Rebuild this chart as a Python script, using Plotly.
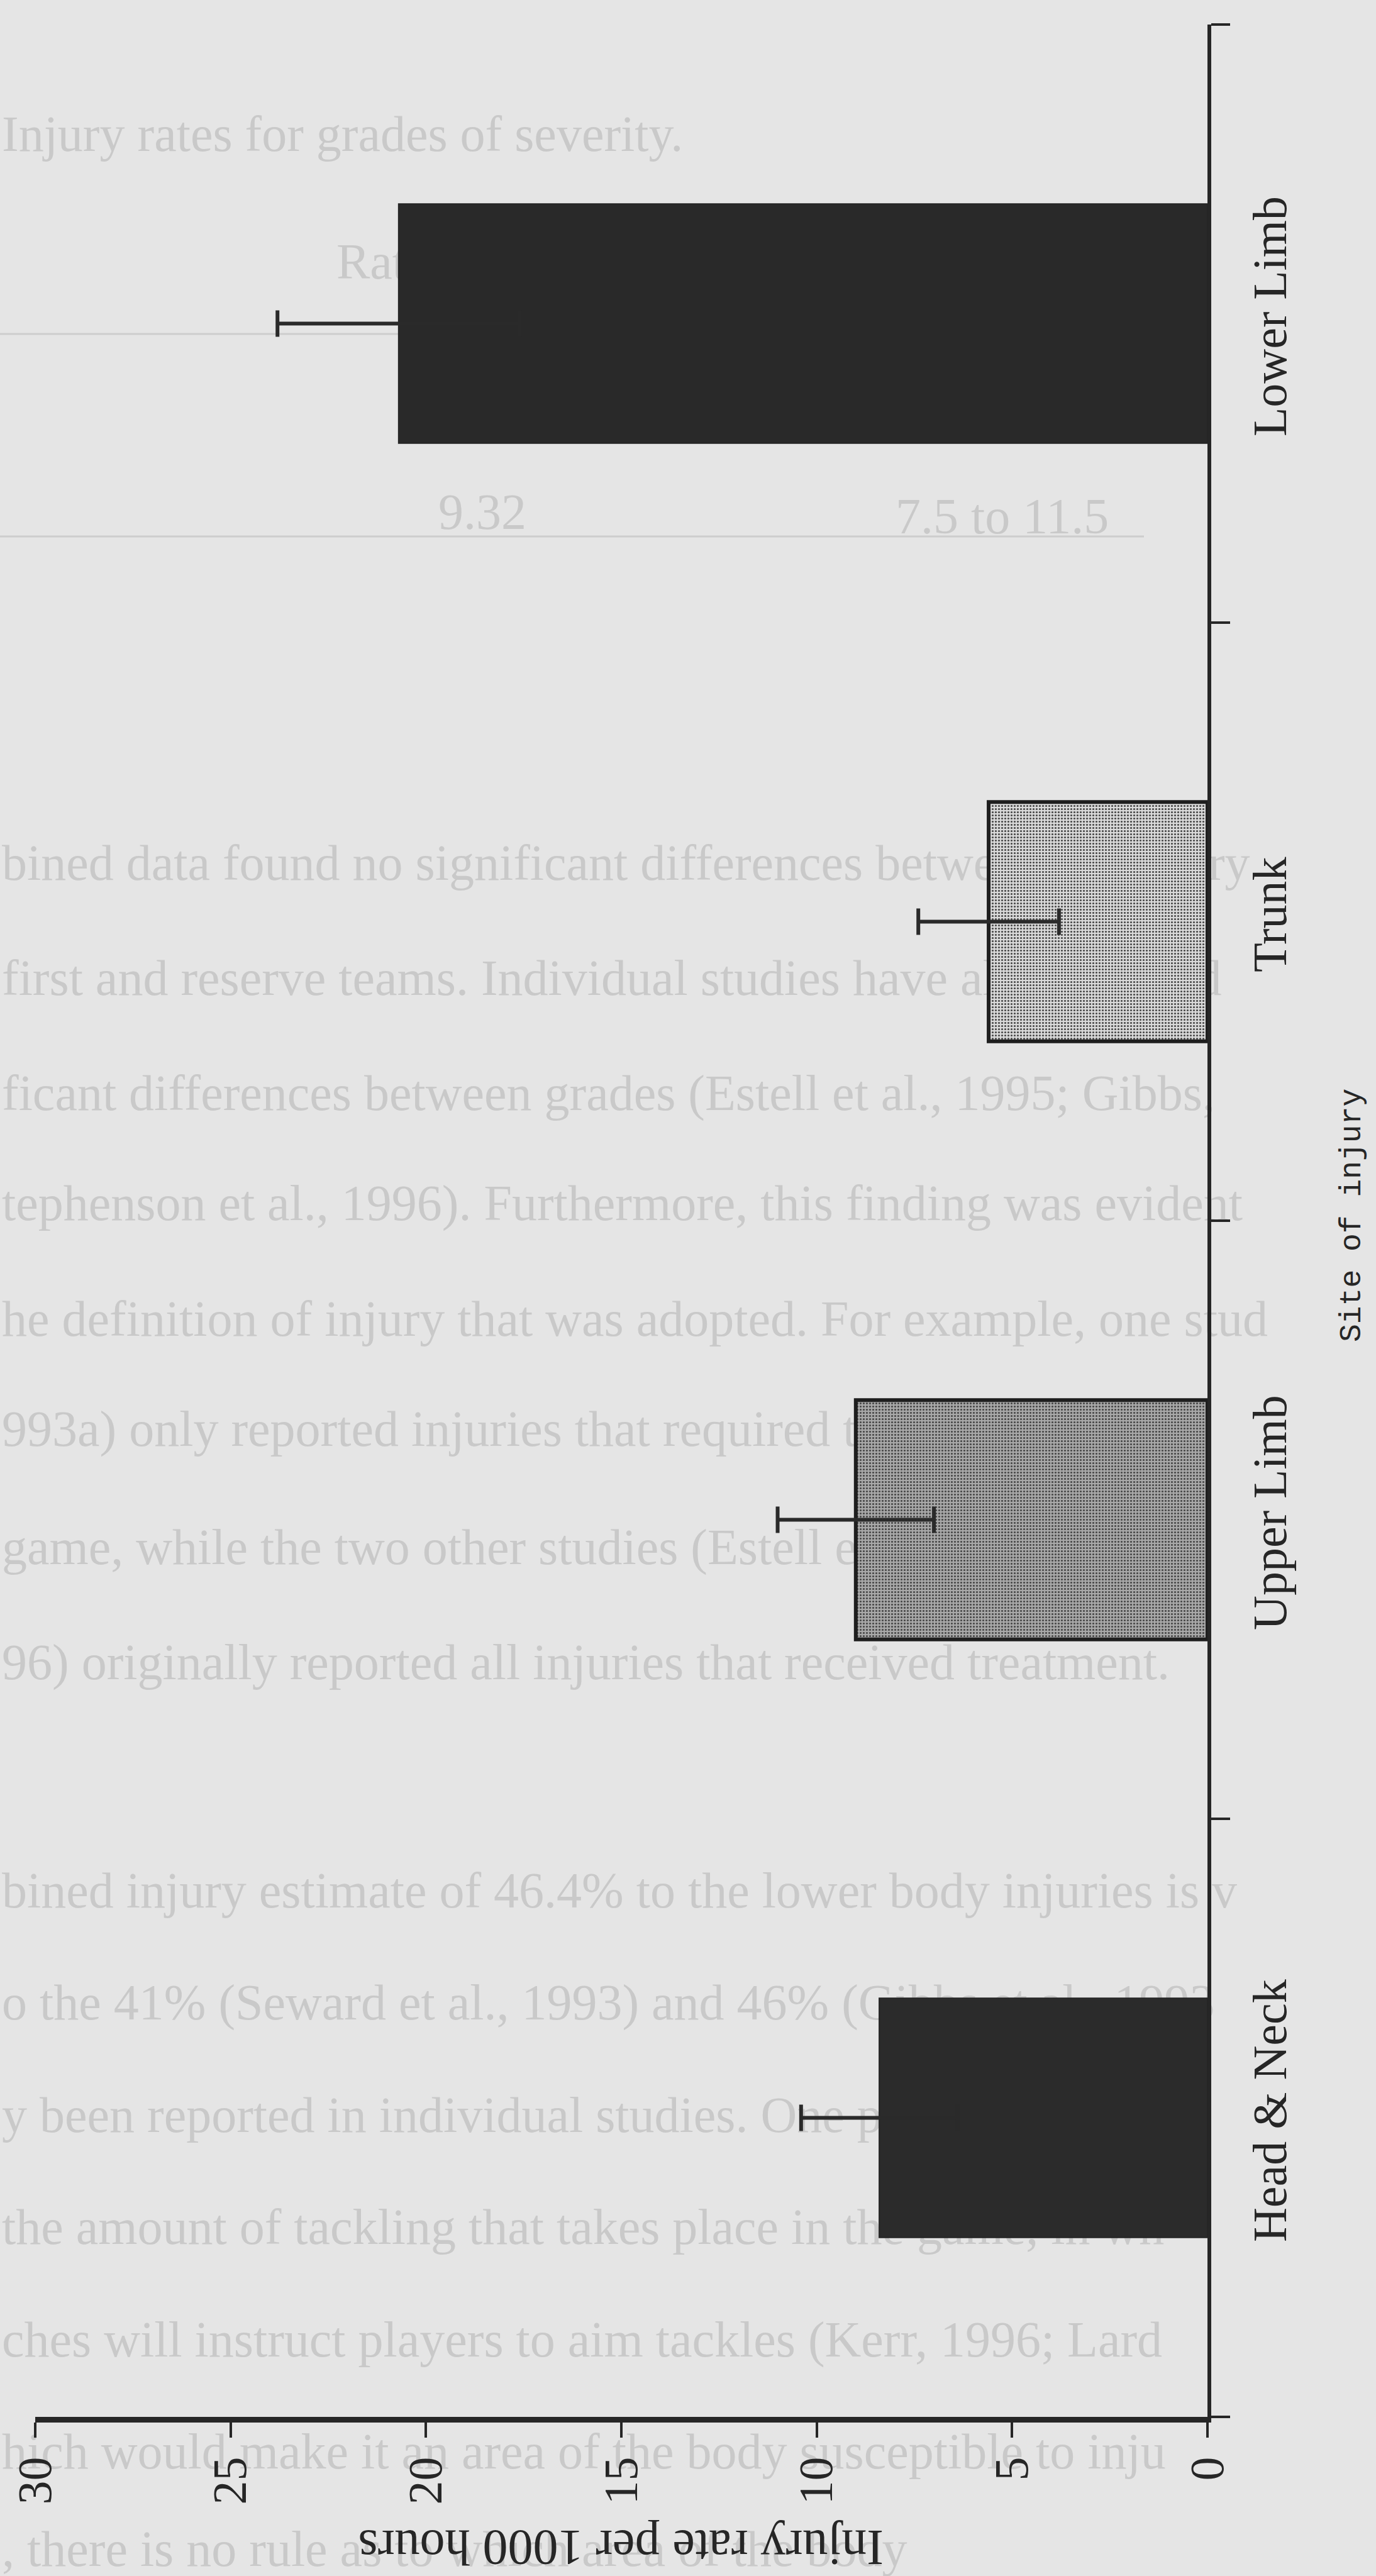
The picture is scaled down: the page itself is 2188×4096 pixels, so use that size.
import plotly.graph_objects as go

# ---------------- data ----------------
categories = ["Head & Neck", "Upper Limb", "Trunk", "Lower Limb"]
injury_rate = [8.4, 9.0, 5.6, 20.7]          # injuries per 1000 hours
error_half = [2.0, 2.0, 1.8, 3.1]            # error bar half-length
x_tick_values = [0, 5, 10, 15, 20, 25, 30]
x_tick_labels = ["0", "5", "10", "15", "20", "25", "30"]
x_title = "Injury rate per 1000 hours"
y_title = "Site of injury"

# bar styling
bar_fill = ["#2b2b2b", "#a8a8a8", "#d9d9d9", "#292929"]
bar_grain_shape = ["", ".", ".", ""]
bar_grain = ["#333333", "#999999", "#c6c6c6", "#333333"]
bar_edge = ["#242424", "#1e1e1e", "#1e1e1e", "#242424"]
bar_edge_w = [2, 6, 6, 2]

# faint page text visible behind the figure (scan of a thesis page)
page_text = [
    (204, 0, "Injury rates for grades of severity."),
    (407, 532, "Rate"),
    (805, 694, "9.32"),
    (812, 1421, "7.5 to 11.5"),
    (1363, 0, "bined data found no significant differences between the injury"),
    (1546, 0, "first and reserve teams. Individual studies have also reported"),
    (1729, 0, "ficant differences between grades (Estell et al., 1995; Gibbs,"),
    (1904, 0, "tephenson et al., 1996). Furthermore, this finding was evident"),
    (2088, 0, "he definition of injury that was adopted. For example, one stud"),
    (2263, 0, "993a) only reported injuries that required the player to miss"),
    (2451, 0, "game, while the two other studies (Estell et al., 1995; Steph"),
    (2634, 0, "96) originally reported all injuries that received treatment."),
    (2997, 0, "bined injury estimate of 46.4% to the lower body injuries is v"),
    (3175, 0, "o the 41% (Seward et al., 1993) and 46% (Gibbs et al., 1993"),
    (3354, 0, "y been reported in individual studies. One possible reason"),
    (3532, 0, "the amount of tackling that takes place in the game, in wh"),
    (3711, 0, "ches will instruct players to aim tackles (Kerr, 1996; Lard"),
    (3889, 0, "hich would make it an area of the body susceptible to inju"),
    (4044, 0, ", there is no rule as to which area of the body"),
]
page_rules = [(531, 0, 1900), (853, 0, 1819)]

# ---------------- layout geometry ----------------
W, H = 2188, 4096
ML, MR, MT, MB = 56, 268, 39, 253
PW, PH = W - ML - MR, H - MT - MB


def px_x(px):
    return (px - ML) / PW


def px_y(py):
    return (H - MB - py) / PH


SERIF = "Liberation Serif, Times New Roman, serif"
INK = "#262626"

fig = go.Figure()
fig.add_trace(
    go.Bar(
        x=injury_rate,
        y=categories,
        orientation="h",
        marker=dict(
            color=bar_fill,
            opacity=1,
            line=dict(color=bar_edge, width=bar_edge_w),
            pattern=dict(
                shape=bar_grain_shape,
                fgcolor=bar_grain,
                fgopacity=1,
                size=5,
                solidity=0.3,
                fillmode="overlay",
            ),
        ),
        error_x=dict(
            type="data",
            array=error_half,
            symmetric=True,
            color="#2a2a2a",
            thickness=6,
            width=21,
        ),
        showlegend=False,
        hoverinfo="x+y",
    )
)

shapes = []
for y, x, t in page_text:
    shapes.append(
        dict(
            type="rect",
            xref="paper",
            yref="paper",
            x0=px_x(x),
            x1=px_x(x + 2100),
            y0=px_y(y + 45),
            y1=px_y(y - 45),
            line=dict(width=0),
            fillcolor="rgba(0,0,0,0)",
            layer="below",
            label=dict(
                text=t,
                textposition="middle left",
                padding=0,
                font=dict(family=SERIF, size=80, color="#c9c9c9"),
            ),
        )
    )
for y, xa, xb in page_rules:
    shapes.append(
        dict(
            type="line",
            xref="paper",
            yref="paper",
            x0=px_x(xa),
            x1=px_x(xb),
            y0=px_y(y),
            y1=px_y(y),
            line=dict(color="#cdcdcd", width=3),
            layer="below",
        )
    )

fig.update_layout(
    width=W,
    height=H,
    margin=dict(l=ML, r=MR, t=MT, b=MB, pad=0),
    paper_bgcolor="#e5e5e5",
    plot_bgcolor="rgba(0,0,0,0)",
    bargap=0.6,
    shapes=shapes,
    xaxis=dict(
        range=[30, 0],
        tickmode="array",
        tickvals=x_tick_values,
        ticktext=x_tick_labels,
        tickangle=-90,
        ticks="outside",
        ticklen=24,
        tickwidth=4,
        tickcolor=INK,
        showline=True,
        linewidth=9,
        linecolor=INK,
        showgrid=False,
        zeroline=False,
        tickfont=dict(family=SERIF, size=76, color=INK),
        fixedrange=True,
    ),
    yaxis=dict(
        type="category",
        categoryorder="array",
        categoryarray=categories,
        side="right",
        tickangle=-90,
        ticks="outside",
        tickson="boundaries",
        ticklen=30,
        tickwidth=4,
        tickcolor=INK,
        ticklabelstandoff=28,
        showline=True,
        linewidth=6,
        linecolor=INK,
        showgrid=False,
        zeroline=False,
        tickfont=dict(family=SERIF, size=76, color=INK),
        fixedrange=True,
    ),
    annotations=[
        dict(
            text=x_title,
            xref="paper",
            yref="paper",
            x=0.5,
            y=px_y(4051),
            xanchor="center",
            yanchor="middle",
            textangle=180,
            showarrow=False,
            font=dict(family=SERIF, size=80, color=INK),
        ),
        dict(
            text=y_title,
            xref="paper",
            yref="paper",
            x=px_x(2150),
            y=px_y(1933),
            xanchor="center",
            yanchor="middle",
            textangle=-90,
            showarrow=False,
            font=dict(family="Liberation Mono, DejaVu Sans Mono, monospace", size=48, color=INK),
        ),
    ],
)

fig.write_html(
    "out.html",
    config={"displayModeBar": False},
    post_script="document.body.style.margin='0';",
)
